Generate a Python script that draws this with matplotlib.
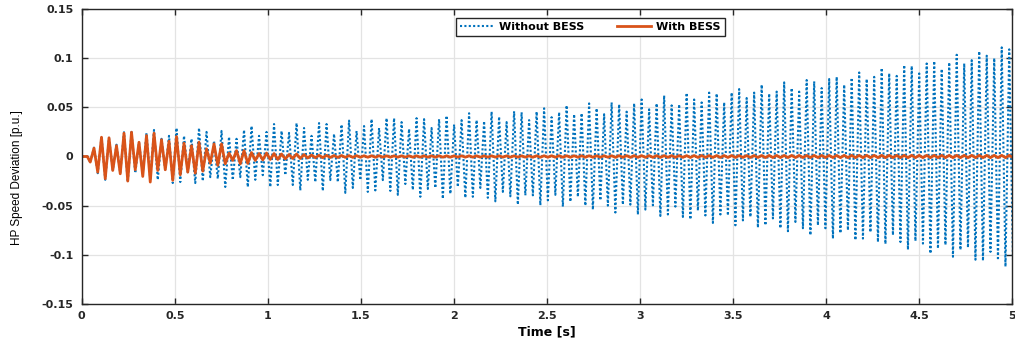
import matplotlib
matplotlib.use("Agg")
import matplotlib.pyplot as plt
import numpy as np

# oscillation period (peaks ~7.5 px apart) and time of first peak
period = 0.0403
first_peak = 0.066

# without BESS: peak (max) and trough (min) of each swing, k = 0..122 / 0..123
blue_peaks = [0.009, 0.020, 0.019, 0.012, 0.0247, 0.025, 0.0145, 0.024, 0.027, 0.018,
              0.021, 0.029, 0.021, 0.018, 0.029, 0.025, 0.016, 0.026, 0.020, 0.018,
              0.027, 0.031, 0.021, 0.025, 0.033, 0.026, 0.024, 0.034, 0.029, 0.021,
              0.034, 0.033, 0.023, 0.0325, 0.0365, 0.026, 0.031, 0.038, 0.029, 0.039,
              0.039, 0.035, 0.028, 0.039, 0.038, 0.029, 0.038, 0.0415, 0.0325, 0.037,
              0.044, 0.037, 0.036, 0.0456, 0.0405, 0.035, 0.046, 0.045, 0.037, 0.0456,
              0.049, 0.040, 0.045, 0.052, 0.043, 0.044, 0.054, 0.049, 0.043, 0.055,
              0.053, 0.0456, 0.054, 0.058, 0.048, 0.054, 0.062, 0.052, 0.053, 0.0646,
              0.058, 0.055, 0.065, 0.064, 0.055, 0.065, 0.0686, 0.0595, 0.065, 0.073,
              0.064, 0.066, 0.0754, 0.0696, 0.066, 0.0778, 0.0764, 0.0696, 0.0788, 0.081,
              0.073, 0.080, 0.0855, 0.0788, 0.081, 0.090, 0.0845, 0.082, 0.093, 0.092,
              0.0845, 0.0946, 0.097, 0.089, 0.0957, 0.1035, 0.0946, 0.098, 0.107, 0.1025,
              0.100, 0.111, 0.109]
blue_troughs = [-0.006, -0.017, -0.0237, -0.014, -0.017, -0.026, -0.017, -0.0176, -0.023, -0.0237,
                -0.014, -0.027, -0.026, -0.016, -0.027, -0.025, -0.021, -0.0226, -0.031, -0.024,
                -0.021, -0.031, -0.0237, -0.019, -0.031, -0.029, -0.019, -0.029, -0.0345, -0.0237,
                -0.026, -0.035, -0.024, -0.026, -0.037, -0.032, -0.024, -0.036, -0.0345, -0.024,
                -0.035, -0.039, -0.028, -0.034, -0.041, -0.033, -0.032, -0.043, -0.038, -0.031,
                -0.042, -0.041, -0.032, -0.042, -0.0456, -0.036, -0.0405, -0.049, -0.0395, -0.0395,
                -0.0496, -0.0446, -0.039, -0.051, -0.046, -0.041, -0.050, -0.054, -0.0446, -0.050,
                -0.057, -0.049, -0.049, -0.059, -0.054, -0.0497, -0.0605, -0.059, -0.051, -0.0615,
                -0.064, -0.055, -0.060, -0.0676, -0.059, -0.060, -0.070, -0.065, -0.0615, -0.0723,
                -0.070, -0.063, -0.073, -0.076, -0.0666, -0.073, -0.080, -0.070, -0.073, -0.0835,
                -0.078, -0.075, -0.085, -0.0835, -0.077, -0.087, -0.089, -0.080, -0.087, -0.0947,
                -0.086, -0.0886, -0.0987, -0.0936, -0.090, -0.102, -0.095, -0.0926, -0.105, -0.106,
                -0.097, -0.1055, -0.112, -0.105]

# with BESS: decays quickly, small ripple afterwards
orange_peaks = [0.0085, 0.0196, 0.019, 0.011, 0.0237, 0.0247, 0.0145, 0.0213, 0.0237, 0.017,
                0.0155, 0.0203, 0.0135, 0.011, 0.0145, 0.0078, 0.0128, 0.0128, 0.0034, 0.006,
                0.006, 0.004, 0.003, 0.0035, 0.003, 0.0025, 0.002, 0.0025, 0.002, 0.0015,
                0.0012, 0.0012, 0.001, 0.001, 0.0009, 0.0009, 0.0008, 0.0008, 0.0008, 0.0007,
                0.0007, 0.0007, 0.0007, 0.0007, 0.0007, 0.0007, 0.0007, 0.0007, 0.0007, 0.0007,
                0.0007, 0.0007, 0.0007, 0.0007, 0.0007, 0.0007, 0.0007, 0.0007, 0.0007, 0.0008,
                0.0008, 0.0008, 0.0008, 0.0008, 0.0008, 0.0008, 0.0008, 0.0008, 0.0008, 0.0008,
                0.0009, 0.0009, 0.0009, 0.0009, 0.0009, 0.0009, 0.0009, 0.0009, 0.0009, 0.0009,
                0.001, 0.001, 0.001, 0.001, 0.001, 0.001, 0.001, 0.001, 0.001, 0.001,
                0.0011, 0.0011, 0.0011, 0.0011, 0.0011, 0.0011, 0.0011, 0.0011, 0.0011, 0.0011,
                0.0012, 0.0012, 0.0012, 0.0012, 0.0012, 0.0012, 0.0012, 0.0012, 0.0012, 0.0012,
                0.0012, 0.0012, 0.0012, 0.0012, 0.0012, 0.0012, 0.0012, 0.0012, 0.0012, 0.0012,
                0.0012, 0.0012, 0.0012]
orange_troughs = [-0.0057, -0.0159, -0.0226, -0.0142, -0.0176, -0.025, -0.0135, -0.0203, -0.026, -0.0142,
                  -0.0135, -0.0243, -0.0186, -0.0159, -0.0169, -0.0149, -0.0068, -0.009, -0.0074, -0.004,
                  -0.0074, -0.007, -0.004, -0.0035, -0.003, -0.003, -0.0025, -0.002, -0.002, -0.0015,
                  -0.0012, -0.0012, -0.001, -0.001, -0.0009, -0.0009, -0.0008, -0.0008, -0.0008, -0.0007,
                  -0.0007, -0.0007, -0.0007, -0.0007, -0.0007, -0.0007, -0.0007, -0.0007, -0.0007, -0.0007,
                  -0.0007, -0.0007, -0.0007, -0.0007, -0.0007, -0.0007, -0.0007, -0.0007, -0.0007, -0.0008,
                  -0.0008, -0.0008, -0.0008, -0.0008, -0.0008, -0.0008, -0.0008, -0.0008, -0.0008, -0.0008,
                  -0.0009, -0.0009, -0.0009, -0.0009, -0.0009, -0.0009, -0.0009, -0.0009, -0.0009, -0.0009,
                  -0.001, -0.001, -0.001, -0.001, -0.001, -0.001, -0.001, -0.001, -0.001, -0.001,
                  -0.0011, -0.0011, -0.0011, -0.0011, -0.0011, -0.0011, -0.0011, -0.0011, -0.0011, -0.0011,
                  -0.0012, -0.0012, -0.0012, -0.0012, -0.0012, -0.0012, -0.0012, -0.0012, -0.0012, -0.0012,
                  -0.0012, -0.0012, -0.0012, -0.0012, -0.0012, -0.0012, -0.0012, -0.0012, -0.0012, -0.0012,
                  -0.0012, -0.0012, -0.0012, -0.0012]

x_ticks = [0, 0.5, 1, 1.5, 2, 2.5, 3, 3.5, 4, 4.5, 5]
x_tick_labels = ["0", "0.5", "1", "1.5", "2", "2.5", "3", "3.5", "4", "4.5", "5"]
y_ticks = [-0.15, -0.1, -0.05, 0, 0.05, 0.1, 0.15]
y_tick_labels = ["-0.15", "-0.1", "-0.05", "0", "0.05", "0.1", "0.15"]


def build_trace(peaks, troughs):
    # flat before the disturbance, then alternate trough/peak each half period
    t = [0.0, 0.03]
    y = [0.0, 0.0]
    for k in range(len(troughs)):
        t.append(first_peak + (k - 0.5) * period)
        y.append(troughs[k])
        if k < len(peaks):
            t.append(first_peak + k * period)
            y.append(peaks[k])
    return np.array(t), np.array(y)


t_blue, y_blue = build_trace(blue_peaks, blue_troughs)
t_orange, y_orange = build_trace(orange_peaks, orange_troughs)

plt.rcParams['font.family'] = ['DejaVu Sans']
plt.rcParams['axes.unicode_minus'] = False

fig = plt.figure(figsize=(10.15, 3.47), dpi=100)
ax = fig.add_axes([0.0805, 0.124, 0.917, 0.85])

ax.plot(t_blue, y_blue, linestyle=(0, (1.0, 1.1)), color='#0072BD', linewidth=1.5, label='Without BESS')
ax.plot(t_orange, y_orange, linestyle='-', color='#D95319', linewidth=2.0, label='With BESS')

ax.set_xlim(0, 5)
ax.set_ylim(-0.15, 0.15)
ax.set_xticks(x_ticks)
ax.set_xticklabels(x_tick_labels, fontweight='bold', fontsize=8)
ax.set_yticks(y_ticks)
ax.set_yticklabels(y_tick_labels, fontweight='bold', fontsize=8)
ax.tick_params(direction='in', top=True, right=True, length=4, width=1, colors='#262626')
ax.tick_params(axis='y', pad=6)
ax.tick_params(axis='x', pad=5)
ax.grid(True, color='#e3e3e3', linewidth=0.9)
ax.set_axisbelow(True)
for sp in ax.spines.values():
    sp.set_color('#262626')
    sp.set_linewidth(1.0)

ax.set_xlabel('Time [s]', fontweight='bold', fontsize=9, labelpad=3)
ax.set_ylabel('HP Speed Deviation [p.u.]',
              family=['Liberation Sans Narrow', 'Liberation Sans', 'DejaVu Sans'],
              fontsize=8.5)
ax.yaxis.set_label_coords(-0.063, 0.43)

leg = ax.legend(loc='upper left', bbox_to_anchor=(0.402, 0.969), ncol=2,
                prop={'weight': 'bold', 'size': 8}, frameon=True, fancybox=False,
                edgecolor='#262626', framealpha=1, handlelength=3.0, columnspacing=3.0,
                borderpad=0.35, handletextpad=0.5, borderaxespad=0)
leg.get_frame().set_linewidth(1.0)

fig.savefig('out.png', dpi=100)
